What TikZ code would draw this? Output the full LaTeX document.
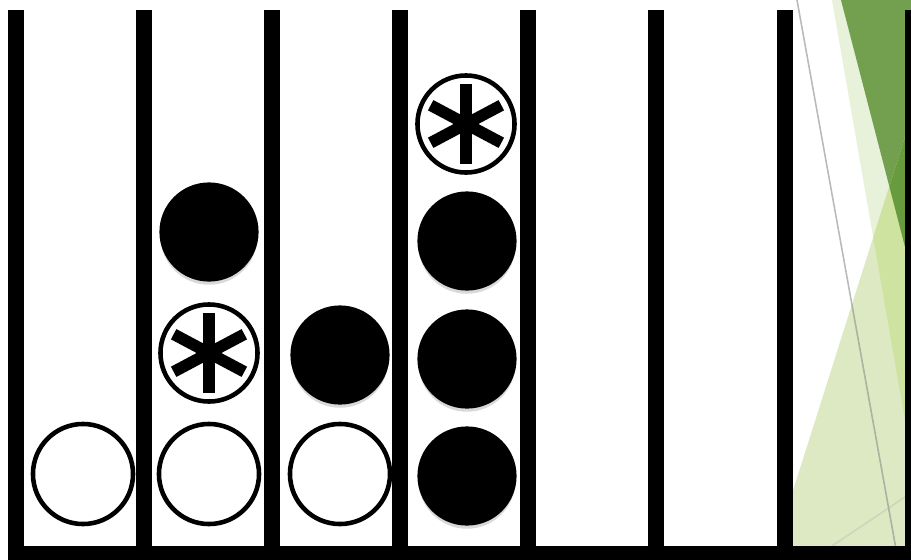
\documentclass[tikz,border=0pt]{standalone}
\usetikzlibrary{shadows}

\definecolor{leafdark}{HTML}{72A04F}
\definecolor{leafdeep}{HTML}{689A3E}
\definecolor{leafpale}{HTML}{E8F1D9}
\definecolor{leaflight}{HTML}{DDE9C2}
\definecolor{leafmid}{HTML}{CFE3A0}

\begin{document}
\begin{tikzpicture}[
  x=0.01cm, y=-0.01cm,
  bead/.style={circle, draw, line width=1.3pt, minimum size=0.97cm, inner sep=0pt},
  openbead/.style={bead, fill=white, minimum size=1cm},
  starbead/.style={bead, fill=white},
  fullbead/.style={bead, fill=black, line width=0.6pt,
    drop shadow={shadow xshift=0pt, shadow yshift=-1.2pt, opacity=0.3}},
  arm/.style={line width=3.3pt},
  bar/.style={line width=0.16cm}
]
  \useasboundingbox (0,0) rectangle (911,560);

  % green corner on the right
  \begin{scope}
    \clip (777,0) rectangle (911,560);
    \fill[leafpale] (832,0) -- (911,0) -- (911,455) -- cycle;
    \fill[leaflight] (911,118) -- (771,560) -- (911,560) -- cycle;
    \begin{scope}
      \clip (911,118) -- (771,560) -- (911,560) -- cycle;
      \fill[leafmid] (832,0) -- (911,0) -- (911,455) -- cycle;
      \fill[leafdeep] (841,0) -- (911,0) -- (911,270) -- cycle;
    \end{scope}
    \begin{scope}
      \clip (911,0) -- (911,118) -- (771,560) -- (700,560) -- (700,0) -- cycle;
      \fill[leafdark] (841,0) -- (911,0) -- (911,270) -- cycle;
    \end{scope}
    \draw[black!45, opacity=0.6, line width=0.45pt] (797,0) -- (898,560);
    \draw[black!30, opacity=0.35, line width=0.45pt] (832,546) -- (911,493);
  \end{scope}

  % columns
  \foreach \x in {16,144,272,400,528,656,785,913}
    \draw[bar] (\x,10) -- (\x,560);
  \draw[line width=0.14cm] (8,553) -- (911,553);

  % beads
  \node[openbead] (open1) at (83,474) {};
  \node[openbead] (open2) at (209,474) {};
  \node[openbead] (open3) at (340,474) {};
  \node[starbead] (star2) at (209,353) {};
  \node[fullbead] (full2) at (209,232) {};
  \node[fullbead] (full3) at (340,355) {};
  \foreach \y/\k in {476/a, 359/b, 241/c}
    \node[fullbead] (full4\k) at (467,\y) {};
  \node[starbead] (star4) at (466,124) {};
  \foreach \s in {star2, star4}
    \foreach \a in {90, 28, -28}
      \draw[arm] (\s.center) ++(\a:0.4cm) -- ++(\a+180:0.8cm);
\end{tikzpicture}
\end{document}
